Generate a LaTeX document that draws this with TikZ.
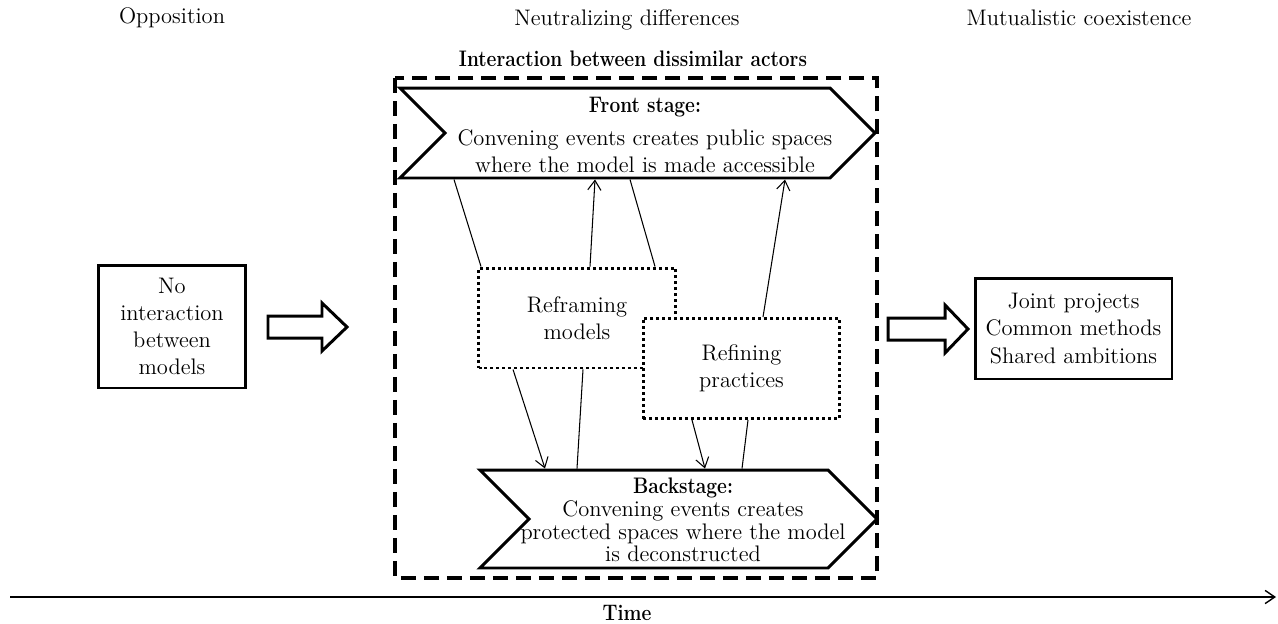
\documentclass[tikz,border=0pt]{standalone}
\usepackage{graphicx}
\usepackage{tikz}
\usetikzlibrary{shapes.symbols, arrows.meta}

\newcommand{\heading}[1]{\scalebox{0.85}[1]{\textbf{#1}}}

\begin{document}
\begin{tikzpicture}[x=0.02cm, y=-0.02cm,
    font=\fontsize{12.8}{15.5}\selectfont,
    >={Straight Barb[length=5.5pt,width=7.5pt]},
    stagebox/.style={draw, line width=1.7pt, shape=signal, signal from=west, signal to=east, signal pointer angle=90, inner sep=0pt},
    phasebox/.style={draw, line width=1.7pt, align=center, inner sep=0pt},
    dotbox/.style={draw, fill=white, line width=1.7pt, dash pattern=on 1.7pt off 1.7pt, align=center, inner sep=0pt, minimum width=3.94cm, minimum height=2cm},
    blockarrow/.style={draw, line width=1.7pt, line join=miter},
    link/.style={line width=0.6pt}]
                    \useasboundingbox (0,0) rectangle (1278,623);

                    % column titles
                    \node (opposition) at (172,18) {Opposition};
                    \node (neutral) at (627,20) {Neutralizing differences};
                    \node (mutual) at (1079,18) {Mutualistic coexistence};
                    \node (title) at (633,59) {\heading{Interaction between dissimilar actors}};

                    % dashed frame
                    \draw[line width=1.9pt, dash pattern=on 0.3cm off 0.16cm] (395,78) rectangle (877,578);

                    \node[stagebox, minimum width=9.5cm, minimum height=1.8cm] (front) at (637.5,133) {};
                    \node[align=center] at (645,135) {\heading{Front stage:}\\[3pt] Convening events creates public spaces\\ where the model is made accessible};
                    \node[stagebox, minimum width=7.94cm, minimum height=1.96cm] (back) at (678.5,519) {};
                    \node[align=center, font=\fontsize{12.8}{13}\selectfont] at (683,520) {\heading{Backstage:}\\ Convening events creates\\ protected spaces where the model\\ is deconstructed};

                    \node[dotbox] (reframe) at (577,318) {Reframing\\ models};
                    \node[dotbox] (refine) at (741.5,368.5) {Refining\\ practices};

                    \node[phasebox, minimum width=2.96cm, minimum height=2.46cm] (none) at (172,326.5) {No\\ interaction\\ between\\ models};
                    \node[phasebox, minimum width=3.94cm, minimum height=2.02cm] (joint) at (1073.5,328.5) {Joint projects\\ Common methods\\ Shared ambitions};

                    \draw[blockarrow] (268,316) -- (322,316) -- (322,303) -- (347,327) -- (322,351) -- (322,338) -- (268,338) -- cycle;
                    \draw[blockarrow] (888,318) -- (945,318) -- (945,305) -- (968,329) -- (945,353) -- (945,340) -- (888,340) -- cycle;

                    \draw[link] (front.south -| 454,0) -- (reframe.north -| 481,0);
                    \draw[link, ->] (reframe.north -| 590,0) -- (front.south -| 595,0);
                    \draw[link] (front.south -| 630,0) -- (reframe.north -| 655,0);
                    \draw[link, ->] (refine.north -| 763,0) -- (front.south -| 785,0);
                    \draw[link, ->] (reframe.south -| 513,0) -- (back.north -| 545,0);
                    \draw[link] (back.north -| 577,0) -- (reframe.south -| 583,0);
                    \draw[link, ->] (refine.south -| 692,0) -- (back.north -| 705,0);
                    \draw[link] (back.north -| 742,0) -- (refine.south -| 748,0);

                    % time axis
                    \coordinate (tstart) at (10,597);
                    \coordinate (tend) at (1276,597);
                    \draw[line width=0.8pt, ->] (tstart) -- (tend);
                    \node (time) at (627,613) {\heading{Time}};
                \end{tikzpicture}
\end{document}
